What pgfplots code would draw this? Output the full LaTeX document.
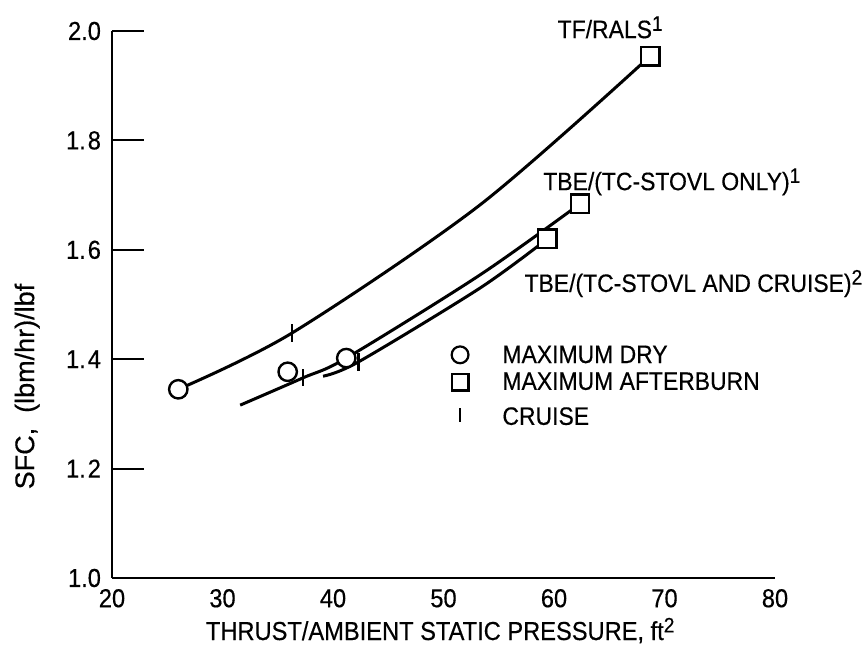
\documentclass[border=0pt]{standalone}
\usepackage{pgfplots}
\pgfplotsset{compat=1.18}
\usepackage{fontspec}
\setmainfont{Liberation Sans}[FakeStretch=0.91, FakeBold=0.4]
\newfontfamily\widefont{Liberation Sans}[FakeBold=0.4]
\newcommand{\sq}[1]{\raisebox{0.55ex}{\fontsize{10.5}{10}\selectfont #1}}
\begin{document}
\begin{tikzpicture}
\useasboundingbox (-56pt,-38pt) rectangle (375pt,289pt);
\begin{axis}[
  at={(0pt,0pt)}, anchor=south west,
  scale only axis, width=331.5pt, height=273.5pt,
  xmin=20, xmax=80, ymin=1.0, ymax=2.0,
  axis x line*=bottom, axis y line*=left,
  axis line style={line width=1.1pt, -},
  tick align=inside,
  xtick={20,30,40,50,60,70,80},
  xticklabels={20,30,40,50,60,70,80},
  ytick={1.0,1.2,1.4,1.6,1.8,2.0},
  yticklabels={1.0,1.\kern1pt2,1.\kern1pt4,1.\kern1pt6,1.\kern1pt8,2.0},
  xtick style={draw=none},
  ytick style={line width=1.1pt, black},
  major tick length=16pt,
  ticklabel style={font=\fontsize{13}{15}\selectfont},
  yticklabel style={xshift=-2pt},
  xticklabel style={yshift=-2pt},
  xlabel={THRUST/AMBIENT STATIC PRESSURE, ft\sq{2}},
  xlabel style={at={(axis description cs:0.495,0)}, anchor=base, yshift=-31pt, font=\fontsize{13}{15}\selectfont},
  ylabel={SFC,\ \ (lbm/hr)/lbf},
  ylabel style={at={(axis description cs:-0.128,0.35)}, anchor=center, font=\widefont\fontsize{13.5}{15}\selectfont},
  clip=false,
]
% curves
\addplot[line width=1.5pt, smooth, forget plot] coordinates {(26,1.345)(36.3,1.448)(53.3,1.682)(68.7,1.954)};
\addplot[line width=1.5pt, smooth, forget plot] coordinates {(31.6,1.316)(37.3,1.366)(41.2,1.402)(53.3,1.554)(62.35,1.684)};
\addplot[line width=1.5pt, smooth, forget plot] coordinates {(39.1,1.369)(42.3,1.395)(53.3,1.530)(59.4,1.620)};
% cruise marks
\addplot[only marks, mark=|, mark size=4.3pt, mark options={line width=1.1pt}] coordinates {(36.3,1.448)(37.3,1.366)(42.3,1.395)};
% maximum dry
\addplot[only marks, mark=*, mark size=4.6pt, mark options={fill=white, draw=black, line width=1.2pt}] coordinates {(26,1.345)(35.9,1.377)(41.2,1.402)};
% maximum afterburn
\addplot[only marks, mark=square*, mark size=4.6pt, mark options={fill=white, draw=black, line width=1.2pt}] coordinates {(68.7,1.954)(62.35,1.684)(59.4,1.620)};
% legend symbols
\addplot[only marks, mark=*, mark size=4.2pt, mark options={fill=white, draw=black, line width=1.1pt}] coordinates {(51.5,1.408)};
\addplot[only marks, mark=square*, mark size=4.2pt, mark options={fill=white, draw=black, line width=1.1pt}] coordinates {(51.5,1.358)};
\addplot[only marks, mark=|, mark size=3.3pt, mark options={line width=1.1pt}] coordinates {(51.5,1.298)};
\node[anchor=base west, font=\fontsize{12.6}{14}\selectfont, inner sep=0pt] at (axis cs:55.3,1.393) {MAXIMUM DRY};
\node[anchor=base west, font=\fontsize{12.6}{14}\selectfont, inner sep=0pt] at (axis cs:55.3,1.344) {MAXIMUM AFTERBURN};
\node[anchor=base west, font=\fontsize{12.6}{14}\selectfont, inner sep=0pt] at (axis cs:55.3,1.280) {CRUISE};
% curve labels
\node[anchor=base west, font=\fontsize{12.6}{14}\selectfont, inner sep=0pt] at (axis cs:60.3,1.987) {TF/RALS\sq{1}};
\node[anchor=base west, font=\fontsize{12.6}{14}\selectfont, inner sep=0pt] at (axis cs:59.0,1.709) {TBE/(TC-STOVL ONLY)\sq{1}};
\node[anchor=base west, font=\fontsize{12.6}{14}\selectfont, inner sep=0pt] at (axis cs:57.3,1.523) {TBE/(TC-STOVL AND CRUISE)\sq{2}};
\end{axis}
\end{tikzpicture}
\end{document}
